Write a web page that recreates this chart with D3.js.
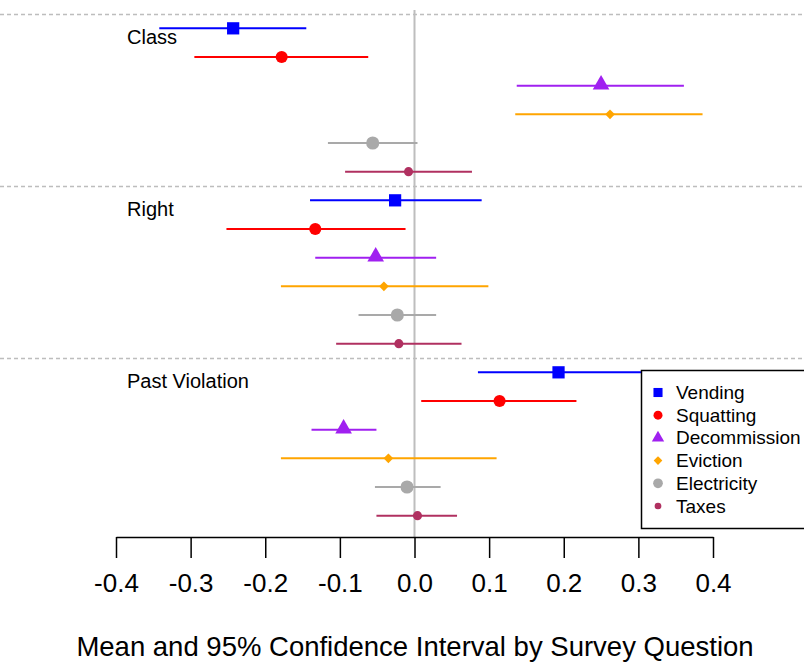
<!DOCTYPE html>
<html>
<head>
    <meta charset='utf-8' />
    <title>Mean and 95% CI by Survey Question</title>
    <script src="https://d3js.org/d3.v7.min.js"></script>
    <style>
        body { margin: 0; background: #fff; }
        svg { font-family: "Liberation Sans", Arial, Helvetica, sans-serif; }
    </style>
</head>
<body>
<svg id="chart" width="804" height="664"></svg>
<script>
    // data
    var groups = ["Class", "Right", "Past Violation"];
    var questions = ["Vending", "Squatting", "Decommission", "Eviction", "Electricity", "Taxes"];
    var colors = ["#0000ff", "#ff0000", "#a020f0", "#ffa500", "#a9a9a9", "#b03060"];
    var symbols = ["square", "circle", "triangle", "diamond", "circle", "circle"];

    var means = [
        [-0.243, -0.178, 0.250, 0.262, -0.056, -0.008],
        [-0.026, -0.133, -0.052, -0.041, -0.023, -0.021],
        [0.193, 0.114, -0.095, -0.035, -0.010, 0.004]
    ];
    var lower = [
        [-0.342, -0.295, 0.137, 0.135, -0.116, -0.093],
        [-0.140, -0.252, -0.133, -0.179, -0.075, -0.105],
        [0.085, 0.009, -0.138, -0.179, -0.053, -0.051]
    ];
    var upper = [
        [-0.145, -0.062, 0.361, 0.386, 0.004, 0.077],
        [0.090, -0.012, 0.029, 0.099, 0.029, 0.063],
        [0.320, 0.217, -0.051, 0.110, 0.035, 0.057]
    ];
    var xTicks = [-0.4, -0.3, -0.2, -0.1, 0.0, 0.1, 0.2, 0.3, 0.4];

    var svg = d3.select("#chart");

    var x = d3.scaleLinear().domain([-0.4, 0.4]).range([116, 713]);

    var rows = [];
    groups.forEach(function (g, gi) {
        questions.forEach(function (q, qi) {
            rows.push({ group: g, gi: gi, q: q, qi: qi, mean: means[gi][qi], lo: lower[gi][qi], hi: upper[gi][qi] });
        });
    });

    var y = d3.scaleBand().domain(d3.range(rows.length)).range([14, 530]);
    function yc(i) { return y(i) + y.bandwidth() / 2; }

    // group separators
    svg.append("g").selectAll("line")
        .data(groups)
        .enter().append("line")
        .attr("x1", 0).attr("x2", 804)
        .attr("y1", function (d, i) { return Math.round(y(i * questions.length)) + 0.5; })
        .attr("y2", function (d, i) { return Math.round(y(i * questions.length)) + 0.5; })
        .style("stroke", "#bdbdbd")
        .style("stroke-width", 1.3)
        .style("stroke-dasharray", "4,3");

    // zero line
    svg.append("line")
        .attr("x1", x(0)).attr("x2", x(0))
        .attr("y1", 10).attr("y2", 537)
        .style("stroke", "#bebebe")
        .style("stroke-width", 2);

    // group labels
    svg.append("g").selectAll("text")
        .data(groups)
        .enter().append("text")
        .attr("x", 127)
        .attr("y", function (d, i) { return yc(i * questions.length) + 16; })
        .style("font-size", "20px")
        .text(function (d) { return d; });

    // intervals
    svg.append("g").selectAll("line")
        .data(rows)
        .enter().append("line")
        .attr("x1", function (d) { return x(d.lo); })
        .attr("x2", function (d) { return x(d.hi); })
        .attr("y1", function (d, i) { return yc(i); })
        .attr("y2", function (d, i) { return yc(i); })
        .style("stroke", function (d) { return colors[d.qi]; })
        .style("stroke-width", 2);

    var symSize = { square: 150, circle: 115, triangle: 120, diamond: 60 };
    var circleSizes = [0, 115, 0, 0, 135, 65];
    var symType = { square: d3.symbolSquare, circle: d3.symbolCircle, triangle: d3.symbolTriangle, diamond: d3.symbolDiamond2 };

    function sym(qi, scale) {
        var s = symbols[qi];
        var size = s === "circle" ? circleSizes[qi] : symSize[s];
        return d3.symbol().type(symType[s]).size(size * (scale || 1))();
    }

    // points
    svg.append("g").selectAll("path")
        .data(rows)
        .enter().append("path")
        .attr("d", function (d) { return sym(d.qi); })
        .attr("transform", function (d, i) {
            var dy = symbols[d.qi] === "triangle" ? -1 : 0;
            return "translate(" + x(d.mean) + "," + (yc(i) + dy) + ")";
        })
        .style("fill", function (d) { return colors[d.qi]; });

    // legend
    var legend = svg.append("g").attr("transform", "translate(641,370)");
    legend.append("rect")
        .attr("x", 0.5).attr("y", 0.5)
        .attr("width", 170).attr("height", 158)
        .style("fill", "#fff")
        .style("stroke", "#000")
        .style("stroke-width", 1.5);
    var li = legend.selectAll("g.item")
        .data(questions)
        .enter().append("g")
        .attr("class", "item")
        .attr("transform", function (d, i) { return "translate(0," + (22.5 + i * 22.7) + ")"; });
    li.append("path")
        .attr("d", function (d, i) { return sym(i, symbols[i] === "diamond" ? 0.8 : 0.55); })
        .attr("transform", "translate(17,0)")
        .style("fill", function (d, i) { return colors[i]; });
    li.append("text")
        .attr("x", 35)
        .attr("y", 6.5)
        .style("font-size", "19px")
        .text(function (d) { return d; });

    // x axis
    var fmt = d3.format(".1f");
    var axis = d3.axisBottom(x)
        .tickValues(xTicks)
        .tickSize(21)
        .tickSizeOuter(0)
        .tickPadding(16)
        .tickFormat(function (d) { return fmt(d).replace("\u2212", "-"); });
    var ax = svg.append("g")
        .attr("transform", "translate(0,537)")
        .call(axis);
    ax.select(".domain").style("stroke", "#000").style("stroke-width", 1.5);
    ax.selectAll(".tick line").style("stroke", "#000").style("stroke-width", 1.5);
    ax.selectAll(".tick text")
        .style("font-size", "26px")
        .style("font-family", "'Liberation Sans', Arial, sans-serif")
        .style("fill", "#000");

    // title
    svg.append("text")
        .attr("x", 415)
        .attr("y", 656)
        .attr("text-anchor", "middle")
        .style("font-size", "27.5px")
        .text("Mean and 95% Confidence Interval by Survey Question");
</script>
</body>
</html>
